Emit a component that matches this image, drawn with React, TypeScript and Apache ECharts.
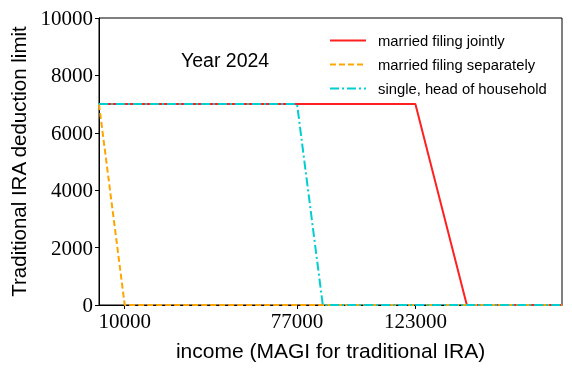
import React, { useEffect, useRef } from "react";
import * as echarts from "echarts";

const jointly: [number, number][] = [[0, 7000], [123000, 7000], [143000, 0], [180000, 0]];
const separately: [number, number][] = [[0, 7000], [10000, 0], [180000, 0]];
const single: [number, number][] = [[0, 7000], [77000, 7000], [87000, 0], [180000, 0]];
const xTicks = [10000, 77000, 123000];
const seriesNames = ["married filing jointly", "married filing separately", "single, head of household"];

export default function App() {
  const ref = useRef<HTMLDivElement>(null);
  useEffect(() => {
    const chart = echarts.init(ref.current!, null, { renderer: "svg" });
    const serif = "Liberation Serif";
    const sans = "Liberation Sans";
    chart.setOption({
      animation: false,
      grid: { left: 99, right: 10, top: 18, bottom: 67, outerBoundsMode: "none", containLabel: false, show: true, borderColor: "#000", borderWidth: 1, backgroundColor: "transparent" },
      legend: {
        orient: "vertical",
        left: 324,
        top: 28,
        padding: 5,
        itemWidth: 36,
        itemHeight: 12,
        itemGap: 9,
        data: seriesNames,
        itemStyle: { opacity: 0 },
        textStyle: { fontFamily: sans, fontSize: 14.8, color: "#000", padding: [0, 0, 0, 7] },
      },
      graphic: [
        { type: "text", left: 181, top: 50, style: { text: "Year 2024", font: `19.5px ${sans}`, fill: "#000" } },
      ],
      xAxis: {
        type: "value",
        min: 0,
        max: 180000,
        name: "income (MAGI for traditional IRA)",
        nameLocation: "middle",
        nameGap: 35,
        nameTextStyle: { fontFamily: sans, fontSize: 21, color: "#000" },
        axisLine: { show: true, lineStyle: { color: "#000" } },
        axisTick: { show: true, customValues: xTicks, length: 4, lineStyle: { color: "#000" } },
        axisLabel: { customValues: xTicks, formatter: (v: number) => String(v), fontFamily: serif, fontSize: 21, color: "#000", margin: 5 },
        splitLine: { show: false },
      },
      yAxis: {
        type: "value",
        min: 0,
        max: 10000,
        interval: 2000,
        name: "Traditional IRA deduction limit",
        nameLocation: "middle",
        nameGap: 70,
        nameTextStyle: { fontFamily: sans, fontSize: 20.5, color: "#000" },
        axisLine: { show: true, lineStyle: { color: "#000" } },
        axisTick: { show: true, length: 4, lineStyle: { color: "#000" } },
        axisLabel: { formatter: (v: number) => String(v), fontFamily: serif, fontSize: 21, color: "#000", margin: 6 },
        splitLine: { show: false },
      },
      series: [
        { name: seriesNames[0], type: "line", data: jointly, symbol: "none", color: "#ff2020", lineStyle: { width: 2, color: "#ff2020" } },
        { name: seriesNames[1], type: "line", data: separately, symbol: "none", color: "#ffa500", lineStyle: { width: 2, color: "#ffa500", type: [6, 3] } },
        { name: seriesNames[2], type: "line", data: single, symbol: "none", color: "#00ced1", lineStyle: { width: 2, color: "#00ced1", type: [9, 3, 2, 3] } },
      ],
    });
    return () => chart.dispose();
  }, []);
  return <div ref={ref} style={{ position: "fixed", left: 0, top: 0, width: 572, height: 372 }} />;
}
